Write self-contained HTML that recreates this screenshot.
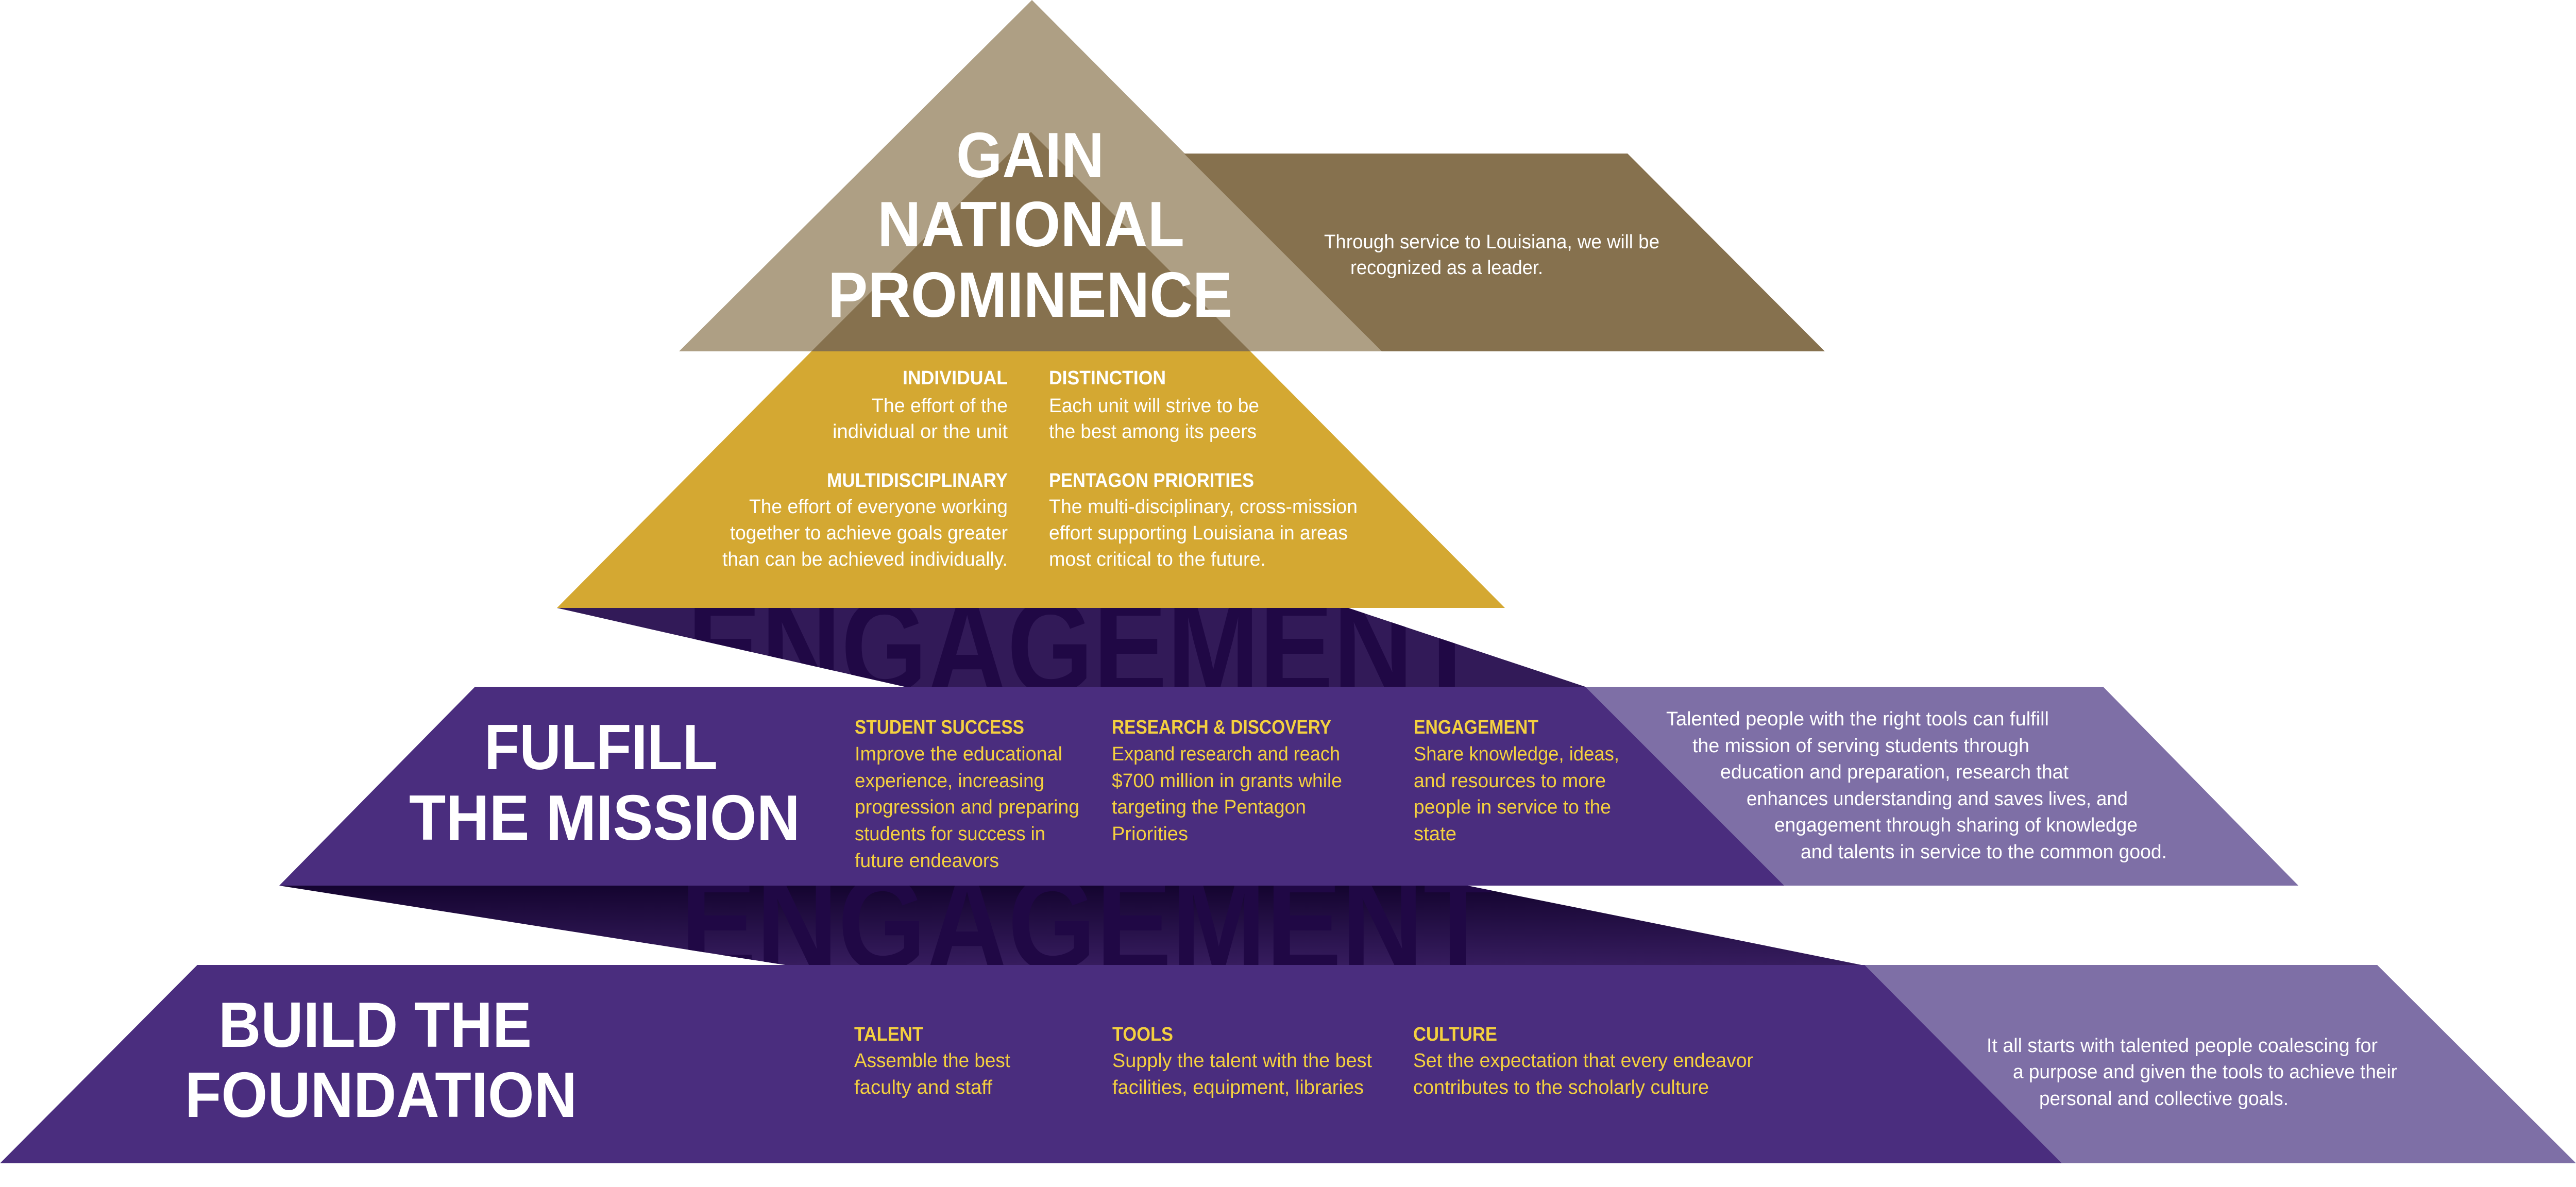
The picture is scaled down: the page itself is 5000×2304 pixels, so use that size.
<!DOCTYPE html>
<html><head><meta charset="utf-8"><style>
html,body{margin:0;padding:0;background:#fff;}
svg{display:block;}
text{font-family:"Liberation Sans Narrow","Liberation Sans",sans-serif;}
.h{font-weight:700;fill:#fff;}
.w{fill:#fff;font-size:38px;}
.wb{fill:#fff;font-size:38px;font-weight:700;}
.y{fill:#f4d03f;font-size:38px;}
.yb{fill:#f4d03f;font-size:38px;font-weight:700;}
.eng{font-weight:700;fill:#200845;font-size:260px;}
</style></head><body>
<svg width="5000" height="2304" viewBox="0 0 5000 2304" xmlns="http://www.w3.org/2000/svg">
<defs>
<linearGradient id="sg2" x1="0" y1="0" x2="0" y2="1">
<stop offset="0" stop-color="#14042f"/><stop offset="1" stop-color="#361c5e"/>
</linearGradient>
<clipPath id="c1"><polygon points="1081,1180 2617,1180 3077,1333 1756,1333"/></clipPath>
<clipPath id="c2"><polygon points="542,1719 2848,1719 3613,1873 1524,1873"/></clipPath>
</defs>

<!-- top tier -->
<polygon points="2003,0 2682,682 1318,682" fill="#ae9f84"/>
<polygon points="2298,298 3159,298 3542,682 2682,682" fill="#86714e"/>
<polygon points="2001,256 2427,682 1575,682" fill="#86714e"/>
<polygon points="1575,682 2427,682 2921,1180 1081,1180" fill="#d4a832"/>

<!-- shadow 1 -->
<polygon points="1081,1180 2617,1180 3077,1333 1756,1333" fill="#321a58"/>
<g clip-path="url(#c1)"><text class="eng" x="1334" y="1345" textLength="1540" lengthAdjust="spacingAndGlyphs">ENGAGEMENT</text></g>

<!-- band 2 -->
<polygon points="922,1333 4082,1333 4461,1719 542,1719" fill="#4a2d7e"/>
<polygon points="3077,1333 4082,1333 4461,1719 3463,1719" fill="#7e6fa6"/>

<!-- shadow 2 -->
<polygon points="542,1719 2848,1719 3613,1873 1524,1873" fill="url(#sg2)"/>
<g clip-path="url(#c2)"><text class="eng" x="1321" y="1882" textLength="1576" lengthAdjust="spacingAndGlyphs">ENGAGEMENT</text></g>

<!-- band 3 -->
<polygon points="383,1873 4614,1873 5000,2258 0,2258" fill="#4a2d7e"/>
<polygon points="3619,1873 4614,1873 5000,2258 4002,2258" fill="#7e6fa6"/>

<!-- headings -->
<text class="h" font-size="124" x="1856" y="344" textLength="287" lengthAdjust="spacingAndGlyphs">GAIN</text>
<text class="h" font-size="124" x="1703" y="478" textLength="596" lengthAdjust="spacingAndGlyphs">NATIONAL</text>
<text class="h" font-size="124" x="1607" y="615" textLength="785" lengthAdjust="spacingAndGlyphs">PROMINENCE</text>

<text class="h" font-size="124" x="940" y="1493" textLength="453" lengthAdjust="spacingAndGlyphs">FULFILL</text>
<text class="h" font-size="124" x="794" y="1630" textLength="759" lengthAdjust="spacingAndGlyphs">THE MISSION</text>
<text class="h" font-size="124" x="424" y="2032" textLength="608" lengthAdjust="spacingAndGlyphs">BUILD THE</text>
<text class="h" font-size="124" x="359" y="2168" textLength="761" lengthAdjust="spacingAndGlyphs">FOUNDATION</text>

<!-- top right desc -->
<text class="w" x="2570" y="482" textLength="651" lengthAdjust="spacingAndGlyphs">Through service to Louisiana, we will be</text>
<text class="w" x="2621" y="532" textLength="374" lengthAdjust="spacingAndGlyphs">recognized as a leader.</text>

<!-- gold texts left -->
<text class="wb" x="1752" y="746" textLength="204" lengthAdjust="spacingAndGlyphs">INDIVIDUAL</text>
<text class="w" x="1692" y="800" textLength="264" lengthAdjust="spacingAndGlyphs">The effort of the</text>
<text class="w" x="1616" y="850" textLength="340" lengthAdjust="spacingAndGlyphs">individual or the unit</text>
<text class="wb" x="1605" y="945" textLength="351" lengthAdjust="spacingAndGlyphs">MULTIDISCIPLINARY</text>
<text class="w" x="1454" y="996" textLength="502" lengthAdjust="spacingAndGlyphs">The effort of everyone working</text>
<text class="w" x="1417" y="1047" textLength="539" lengthAdjust="spacingAndGlyphs">together to achieve goals greater</text>
<text class="w" x="1402" y="1098" textLength="554" lengthAdjust="spacingAndGlyphs">than can be achieved individually.</text>

<text class="wb" x="2036" y="746" textLength="227" lengthAdjust="spacingAndGlyphs">DISTINCTION</text>
<text class="w" x="2036" y="800" textLength="408" lengthAdjust="spacingAndGlyphs">Each unit will strive to be</text>
<text class="w" x="2036" y="850" textLength="403" lengthAdjust="spacingAndGlyphs">the best among its peers</text>
<text class="wb" x="2036" y="945" textLength="398" lengthAdjust="spacingAndGlyphs">PENTAGON PRIORITIES</text>
<text class="w" x="2036" y="996" textLength="599" lengthAdjust="spacingAndGlyphs">The multi-disciplinary, cross-mission</text>
<text class="w" x="2036" y="1047" textLength="580" lengthAdjust="spacingAndGlyphs">effort supporting Louisiana in areas</text>
<text class="w" x="2036" y="1098" textLength="421" lengthAdjust="spacingAndGlyphs">most critical to the future.</text>

<!-- band 2 columns -->
<text class="yb" x="1659" y="1424" textLength="329" lengthAdjust="spacingAndGlyphs">STUDENT SUCCESS</text>
<text class="y" x="1659" y="1476" textLength="403" lengthAdjust="spacingAndGlyphs">Improve the educational</text>
<text class="y" x="1659" y="1528" textLength="368" lengthAdjust="spacingAndGlyphs">experience, increasing</text>
<text class="y" x="1659" y="1579" textLength="436" lengthAdjust="spacingAndGlyphs">progression and preparing</text>
<text class="y" x="1659" y="1631" textLength="370" lengthAdjust="spacingAndGlyphs">students for success in</text>
<text class="y" x="1659" y="1683" textLength="280" lengthAdjust="spacingAndGlyphs">future endeavors</text>

<text class="yb" x="2158" y="1424" textLength="426" lengthAdjust="spacingAndGlyphs">RESEARCH &amp; DISCOVERY</text>
<text class="y" x="2158" y="1476" textLength="443" lengthAdjust="spacingAndGlyphs">Expand research and reach</text>
<text class="y" x="2158" y="1528" textLength="447" lengthAdjust="spacingAndGlyphs">$700 million in grants while</text>
<text class="y" x="2158" y="1579" textLength="377" lengthAdjust="spacingAndGlyphs">targeting the Pentagon</text>
<text class="y" x="2158" y="1631" textLength="148" lengthAdjust="spacingAndGlyphs">Priorities</text>

<text class="yb" x="2744" y="1424" textLength="242" lengthAdjust="spacingAndGlyphs">ENGAGEMENT</text>
<text class="y" x="2744" y="1476" textLength="399" lengthAdjust="spacingAndGlyphs">Share knowledge, ideas,</text>
<text class="y" x="2744" y="1528" textLength="373" lengthAdjust="spacingAndGlyphs">and resources to more</text>
<text class="y" x="2744" y="1579" textLength="383" lengthAdjust="spacingAndGlyphs">people in service to the</text>
<text class="y" x="2744" y="1631" textLength="83" lengthAdjust="spacingAndGlyphs">state</text>

<!-- band 2 right -->
<text class="w" x="3234" y="1408" textLength="743" lengthAdjust="spacingAndGlyphs">Talented people with the right tools can fulfill</text>
<text class="w" x="3285" y="1460" textLength="654" lengthAdjust="spacingAndGlyphs">the mission of serving students through</text>
<text class="w" x="3339" y="1511" textLength="676" lengthAdjust="spacingAndGlyphs">education and preparation, research that</text>
<text class="w" x="3390" y="1563" textLength="740" lengthAdjust="spacingAndGlyphs">enhances understanding and saves lives, and</text>
<text class="w" x="3444" y="1614" textLength="705" lengthAdjust="spacingAndGlyphs">engagement through sharing of knowledge</text>
<text class="w" x="3495" y="1666" textLength="711" lengthAdjust="spacingAndGlyphs">and talents in service to the common good.</text>

<!-- band 3 columns -->
<text class="yb" x="1658" y="2020" textLength="134" lengthAdjust="spacingAndGlyphs">TALENT</text>
<text class="y" x="1658" y="2071" textLength="303" lengthAdjust="spacingAndGlyphs">Assemble the best</text>
<text class="y" x="1658" y="2123" textLength="268" lengthAdjust="spacingAndGlyphs">faculty and staff</text>

<text class="yb" x="2159" y="2020" textLength="118" lengthAdjust="spacingAndGlyphs">TOOLS</text>
<text class="y" x="2159" y="2071" textLength="504" lengthAdjust="spacingAndGlyphs">Supply the talent with the best</text>
<text class="y" x="2159" y="2123" textLength="488" lengthAdjust="spacingAndGlyphs">facilities, equipment, libraries</text>

<text class="yb" x="2743" y="2020" textLength="163" lengthAdjust="spacingAndGlyphs">CULTURE</text>
<text class="y" x="2743" y="2071" textLength="660" lengthAdjust="spacingAndGlyphs">Set the expectation that every endeavor</text>
<text class="y" x="2743" y="2123" textLength="574" lengthAdjust="spacingAndGlyphs">contributes to the scholarly culture</text>

<!-- band 3 right -->
<text class="w" x="3856" y="2042" textLength="759" lengthAdjust="spacingAndGlyphs">It all starts with talented people coalescing for</text>
<text class="w" x="3907" y="2093" textLength="746" lengthAdjust="spacingAndGlyphs">a purpose and given the tools to achieve their</text>
<text class="w" x="3958" y="2145" textLength="484" lengthAdjust="spacingAndGlyphs">personal and collective goals.</text>
</svg>
</body></html>
